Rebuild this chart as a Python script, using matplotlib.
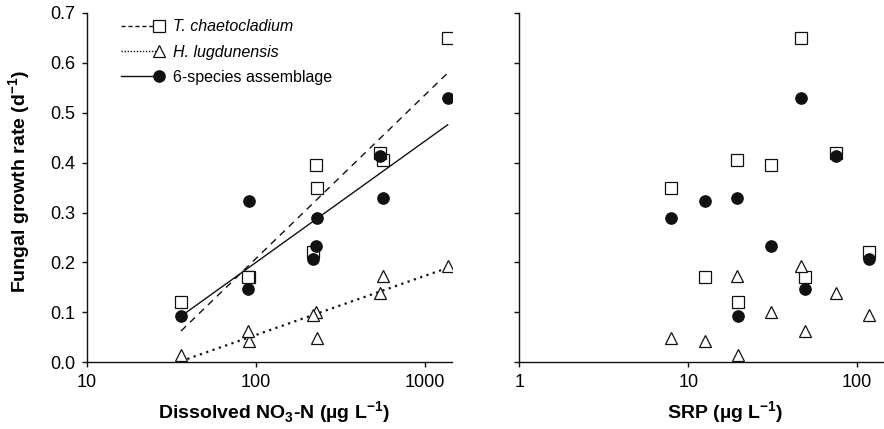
import numpy as np
import matplotlib
matplotlib.use("Agg")
import matplotlib.pyplot as plt
from matplotlib.legend_handler import HandlerLine2DCompound

plt.rcParams['font.family'] = ['Liberation Sans', 'DejaVu Sans']
plt.rcParams['mathtext.fontset'] = 'custom'
plt.rcParams['mathtext.rm'] = 'Liberation Sans'
plt.rcParams['mathtext.bf'] = 'Liberation Sans:bold'

# nine sampling sites
no3 = [229, 91, 561, 36, 226, 1361, 90, 543, 216]          # ug L-1
srp = [7.85, 12.5, 19.4, 19.7, 30.9, 46.8, 48.9, 75, 118]  # ug L-1

# fungal growth rates (d-1)
t_chaeto = [0.35, 0.17, 0.405, 0.12, 0.395, 0.65, 0.17, 0.42, 0.22]
h_lugdun = [0.049, 0.042, 0.172, 0.014, 0.101, 0.192, 0.063, 0.138, 0.094]
assemblage = [0.289, 0.324, 0.330, 0.093, 0.232, 0.530, 0.146, 0.413, 0.207]

species = [
    (t_chaeto, 's', 'white', (0, (5, 4)), 1.0, 'T. chaetocladium'),
    (h_lugdun, '^', 'white', (0, (1, 2)), 1.6, 'H. lugdunensis'),
    (assemblage, 'o', '#111111', '-', 1.0, '6-species assemblage'),
]


class MarkerAtEnd(HandlerLine2DCompound):
    # line across the handle, marker sitting at its right end
    def get_xdata(self, legend, xdescent, ydescent, width, height, fontsize):
        xdata = np.array([-xdescent, -xdescent + width])
        return xdata, np.array([-xdescent + width])


fig = plt.figure(figsize=(8.84, 4.29), dpi=100)
ax1 = fig.add_axes([0.0984, 0.1555, 0.413, 0.8145])
ax2 = fig.add_axes([0.5875, 0.1555, 0.413, 0.8145])

handles = []
for vals, mk, fc, ls, lw, lab in species:
    z = 4 if mk == 'o' else 3
    ax1.plot(no3, vals, linestyle='none', marker=mk, ms=8.2, mfc=fc,
             mec='#111111', mew=0.9, zorder=z)
    ax2.plot(srp, vals, linestyle='none', marker=mk, ms=8.2, mfc=fc,
             mec='#111111', mew=0.9, zorder=z)
    # regression on log10(NO3)
    b, a = np.polyfit(np.log10(no3), vals, 1)
    xs = np.array([min(no3), max(no3)])
    ax1.plot(xs, a + b * np.log10(xs), color='#111111', linestyle=ls,
             lw=lw, zorder=2)
    hls = (0, (3, 2)) if mk == 's' else ((0, (1, 1.2)) if mk == '^' else ls)
    h, = ax1.plot([], [], color='#111111', linestyle=hls, lw=1.0,
                  marker=mk, ms=8.2, mfc=fc, mec='#111111', mew=0.9)
    handles.append(h)

for ax in (ax1, ax2):
    ax.set_xscale('log')
    ax.set_ylim(0, 0.7)
    ax.set_yticks(np.arange(0, 0.71, 0.1))
    ax.minorticks_off()
    ax.spines['top'].set_visible(False)
    ax.spines['right'].set_visible(False)
    for s in ('left', 'bottom'):
        ax.spines[s].set_linewidth(1.0)
        ax.spines[s].set_color('#111111')
    ax.tick_params(direction='out', length=3.6, width=1.0, color='#111111',
                   labelsize=13, pad=5)

ax1.set_xlim(10, 1445)
ax1.set_xticks([10, 100, 1000])
ax1.set_xticklabels(['10', '100', '1000'])
ax1.set_yticklabels([f'{v:.1f}' for v in np.arange(0, 0.71, 0.1)])
ax2.set_xlim(1, 145)
ax2.set_xticks([1, 10, 100])
ax2.set_xticklabels(['1', '10', '100'])
ax2.set_yticklabels([])

ax1.set_ylabel(r'Fungal growth rate (d$^{\mathbf{-1}}$)', fontsize=14,
               fontweight='bold')
ax1.yaxis.set_label_coords(-0.148, 0.517)
ax1.set_xlabel(r'Dissolved NO$_{\mathbf{3}}$-N (µg L$^{\mathbf{-1}}$)', fontsize=14,
               fontweight='bold')
ax2.set_xlabel(r'SRP (µg L$^{\mathbf{-1}}$)', fontsize=14, fontweight='bold')
ax1.xaxis.set_label_coords(0.511, -0.106)
ax2.xaxis.set_label_coords(0.564, -0.106)

leg = ax1.legend(handles, [s[5] for s in species], loc='upper left',
                 frameon=False, fontsize=11.5, handlelength=2.33,
                 handletextpad=0.9, labelspacing=0.65, borderpad=0.4,
                 borderaxespad=0, bbox_to_anchor=(0.077, 1.0),
                 handler_map={h: MarkerAtEnd() for h in handles})
for t in leg.get_texts()[:2]:
    t.set_fontstyle('italic')

fig.savefig('out.png', dpi=100)
